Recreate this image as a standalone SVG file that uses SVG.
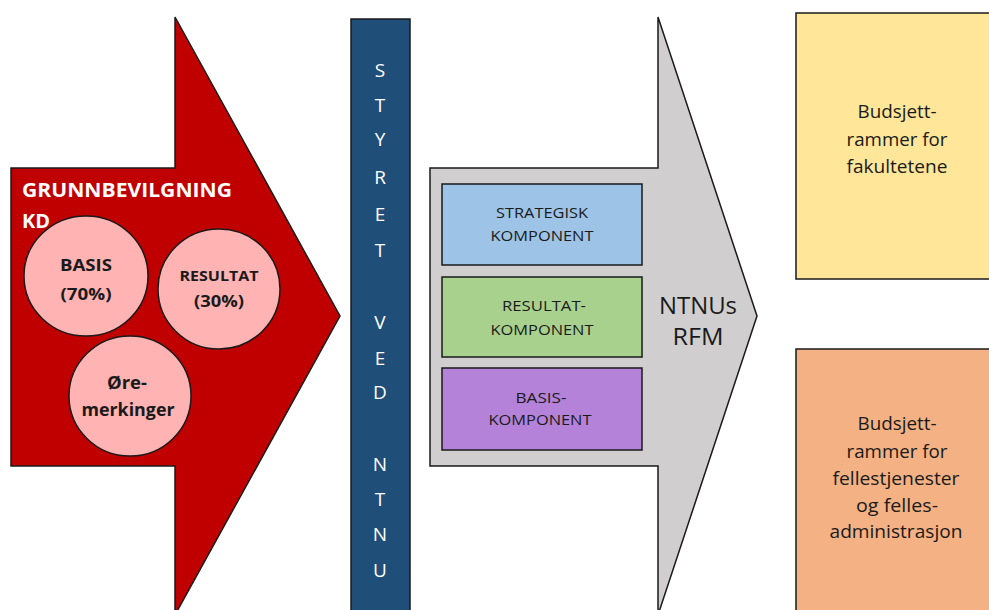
<svg xmlns="http://www.w3.org/2000/svg" width="989" height="610" viewBox="0 0 989 610">
<style>
.t{font-family:"Open Sans","Liberation Sans",sans-serif;}
.b{font-weight:bold;}
.c{text-anchor:middle;}
.ln{stroke:#1a1a1a;stroke-width:1.5;}
.k{fill:#1a1a1a;}
</style>
<rect width="989" height="610" fill="#ffffff"/>
<g id="grunnbevilgning">
<polygon class="ln" points="11,168 175,168 175,17 340,316 175,615 175,466 11,466" fill="#c00000"/>
<text class="t b" x="22" y="197" font-size="19" fill="#ffffff" textLength="210" lengthAdjust="spacingAndGlyphs">GRUNNBEVILGNING</text>
<text class="t b" x="22" y="228" font-size="19" fill="#ffffff" textLength="28" lengthAdjust="spacingAndGlyphs">KD</text>
</g>
<g id="basis">
<ellipse class="ln" cx="86" cy="276" rx="62" ry="60" fill="#ffb3b3"/>
<text class="t b c k" x="86" y="271" font-size="16.5" textLength="52" lengthAdjust="spacingAndGlyphs">BASIS</text>
<text class="t b c k" x="86" y="300" font-size="16.5" textLength="51" lengthAdjust="spacingAndGlyphs">(70%)</text>
</g>
<g id="resultat">
<ellipse class="ln" cx="219" cy="289" rx="61" ry="60" fill="#ffb3b3"/>
<text class="t b c k" x="219" y="281" font-size="14.5" textLength="79" lengthAdjust="spacingAndGlyphs">RESULTAT</text>
<text class="t b c k" x="219" y="307" font-size="16.5" textLength="50" lengthAdjust="spacingAndGlyphs">(30%)</text>
</g>
<g id="oremerkinger">
<ellipse class="ln" cx="130" cy="396" rx="61" ry="60" fill="#ffb3b3"/>
<text class="t b c k" x="127" y="389" font-size="18.5" textLength="40" lengthAdjust="spacingAndGlyphs">Øre-</text>
<text class="t b c k" x="128" y="416" font-size="18.5" textLength="93" lengthAdjust="spacingAndGlyphs">merkinger</text>
</g>
<g id="styret">
<rect class="ln" x="351" y="19" width="59" height="600" fill="#1f4e79"/>
<g class="t c" font-size="19" fill="#ffffff">
<text x="380" y="77">S</text>
<text x="380" y="112">T</text>
<text x="380" y="146">Y</text>
<text x="380" y="184">R</text>
<text x="380" y="221">E</text>
<text x="380" y="257">T</text>
<text x="380" y="329">V</text>
<text x="380" y="365">E</text>
<text x="380" y="399">D</text>
<text x="380" y="471">N</text>
<text x="380" y="506">T</text>
<text x="380" y="541">N</text>
<text x="380" y="577">U</text>
</g>
</g>
<g id="rfm">
<polygon class="ln" points="430,168 658,168 658,17 757,316 658,615 658,466 430,466" fill="#d0cece"/>
<text class="t c k" x="698" y="314" font-size="23.5" textLength="78" lengthAdjust="spacingAndGlyphs">NTNUs</text>
<text class="t c k" x="698" y="345" font-size="23.5" textLength="51" lengthAdjust="spacingAndGlyphs">RFM</text>
</g>
<g id="strategisk">
<rect class="ln" x="442" y="184" width="200" height="81" fill="#9dc3e6"/>
<text class="t c k" x="542" y="218" font-size="14.5" textLength="92" lengthAdjust="spacingAndGlyphs">STRATEGISK</text>
<text class="t c k" x="542" y="241" font-size="14.5" textLength="103" lengthAdjust="spacingAndGlyphs">KOMPONENT</text>
</g>
<g id="resultatkomponent">
<rect class="ln" x="442" y="277" width="200" height="80" fill="#a9d18e"/>
<text class="t c k" x="544" y="311" font-size="14.5" textLength="84" lengthAdjust="spacingAndGlyphs">RESULTAT-</text>
<text class="t c k" x="542" y="335" font-size="14.5" textLength="103" lengthAdjust="spacingAndGlyphs">KOMPONENT</text>
</g>
<g id="basiskomponent">
<rect class="ln" x="442" y="368" width="200" height="82" fill="#b483d9"/>
<text class="t c k" x="541" y="403" font-size="14.5" textLength="51" lengthAdjust="spacingAndGlyphs">BASIS-</text>
<text class="t c k" x="540" y="425" font-size="14.5" textLength="103" lengthAdjust="spacingAndGlyphs">KOMPONENT</text>
</g>
<g id="fakultetene">
<rect class="ln" x="796" y="13" width="200" height="266" fill="#ffe699"/>
<text class="t c k" x="897" y="118" font-size="18" textLength="79" lengthAdjust="spacingAndGlyphs">Budsjett-</text>
<text class="t c k" x="897" y="146" font-size="18" textLength="101" lengthAdjust="spacingAndGlyphs">rammer for</text>
<text class="t c k" x="897" y="173" font-size="18" textLength="101" lengthAdjust="spacingAndGlyphs">fakultetene</text>
</g>
<g id="fellestjenester">
<rect class="ln" x="796" y="349" width="200" height="270" fill="#f4b183"/>
<text class="t c k" x="897" y="430" font-size="18" textLength="79" lengthAdjust="spacingAndGlyphs">Budsjett-</text>
<text class="t c k" x="897" y="458" font-size="18" textLength="101" lengthAdjust="spacingAndGlyphs">rammer for</text>
<text class="t c k" x="896" y="485" font-size="18" textLength="127" lengthAdjust="spacingAndGlyphs">fellestjenester</text>
<text class="t c k" x="897" y="512" font-size="18" textLength="82" lengthAdjust="spacingAndGlyphs">og felles-</text>
<text class="t c k" x="896" y="538" font-size="18" textLength="133" lengthAdjust="spacingAndGlyphs">administrasjon</text>
</g>
<g id="connectors"></g>
</svg>
